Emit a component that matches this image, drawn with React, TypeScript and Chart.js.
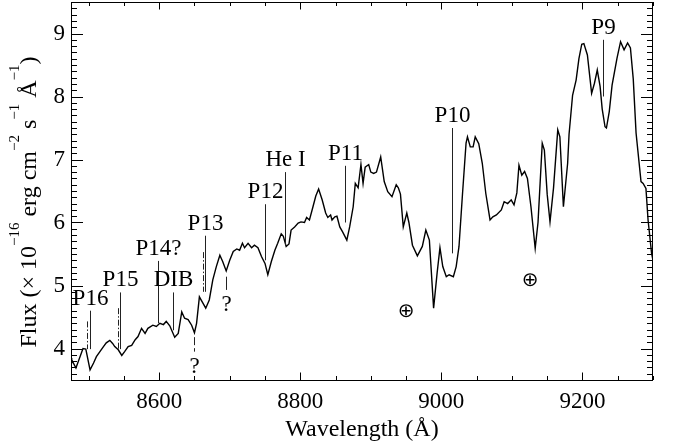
import React, { useEffect, useRef } from 'react';
import { Chart, registerables } from 'chart.js';

Chart.register(...registerables);

// ---- Spectrum data ----
const wavelength = [
  8475, 8476, 8482, 8492, 8496, 8502, 8507, 8511, 8521, 8525, 8530, 8534, 8537, 8542, 8547, 8551, 8556, 8561,
  8566, 8570, 8575, 8580, 8584, 8591, 8596, 8601, 8606, 8610, 8615, 8622, 8627, 8632, 8636, 8641, 8646, 8650,
  8653, 8657, 8661, 8666, 8671, 8676, 8681, 8686, 8690, 8695, 8700, 8705, 8710, 8714, 8718, 8721, 8726, 8731,
  8735, 8740, 8745, 8750, 8754, 8759, 8764, 8768, 8773, 8776, 8780, 8784, 8787, 8792, 8797, 8801, 8806, 8809,
  8813, 8818, 8822, 8826, 8831, 8836, 8839, 8843, 8845, 8849, 8852, 8856, 8860, 8866, 8870, 8875, 8878, 8882,
  8886, 8889, 8892, 8897, 8900, 8904, 8908, 8914, 8919, 8924, 8930, 8936, 8939, 8942, 8946, 8951, 8954, 8959,
  8966, 8973, 8978, 8983, 8989, 8994, 8998, 9002, 9007, 9011, 9017, 9021, 9025, 9030, 9035, 9037, 9041, 9045,
  9048, 9053, 9058, 9063, 9069, 9073, 9078, 9085, 9089, 9094, 9099, 9103, 9107, 9110, 9114, 9118, 9122, 9127,
  9133, 9137, 9143, 9146, 9150, 9154, 9159, 9165, 9168, 9173, 9179, 9181, 9186, 9191, 9195, 9199, 9202, 9207,
  9213, 9217, 9221, 9225, 9228, 9232, 9234, 9238, 9242, 9249, 9254, 9259, 9264, 9268, 9272, 9276, 9283, 9286,
  9290, 9293, 9298, 9300,
];
const flux = [
  3.85, 3.82, 3.69, 4.0, 3.99, 3.66, 3.77, 3.87, 4.03, 4.09, 4.13, 4.08, 4.03, 3.98, 3.89, 3.95, 4.03, 4.05,
  4.14, 4.19, 4.32, 4.24, 4.32, 4.37, 4.35, 4.4, 4.38, 4.43, 4.36, 4.18, 4.24, 4.58, 4.48, 4.46, 4.37, 4.25,
  4.4, 4.82, 4.74, 4.64, 4.77, 5.09, 5.3, 5.48, 5.38, 5.23, 5.4, 5.54, 5.58, 5.56, 5.67, 5.6, 5.67, 5.6,
  5.64, 5.6, 5.46, 5.35, 5.17, 5.38, 5.56, 5.67, 5.82, 5.78, 5.62, 5.66, 5.88, 5.93, 5.99, 6.01, 6.0, 6.08,
  6.04, 6.25, 6.42, 6.53, 6.36, 6.15, 6.08, 6.12, 6.04, 6.09, 6.1, 5.93, 5.85, 5.72, 5.93, 6.25, 6.62, 6.55,
  6.92, 6.62, 6.88, 6.92, 6.8, 6.78, 6.8, 7.04, 6.65, 6.49, 6.41, 6.6, 6.55, 6.45, 5.93, 6.15, 6.0, 5.64,
  5.47, 5.62, 5.88, 5.72, 4.64, 5.2, 5.6, 5.3, 5.14, 5.17, 5.14, 5.3, 5.62, 6.46, 7.26, 7.36, 7.2, 7.2,
  7.36, 7.25, 6.94, 6.46, 6.04, 6.09, 6.12, 6.2, 6.33, 6.3, 6.36, 6.28, 6.47, 6.91, 6.75, 6.81, 6.7, 6.25,
  5.59, 6.0, 7.26, 7.15, 6.45, 6.01, 6.55, 7.47, 7.36, 6.25, 6.94, 7.4, 8.02, 8.26, 8.6, 8.83, 8.84, 8.66,
  8.05, 8.21, 8.42, 8.16, 7.8, 7.52, 7.5, 7.76, 8.18, 8.61, 8.87, 8.74, 8.85, 8.77, 8.28, 7.42, 6.65, 6.62,
  6.54, 6.04, 5.51, 5.4,
];

// ---- Axes ----
const xMin = 8475;
const xMax = 9300;
const yMin = 3.5;
const yMax = 9.5;
const xTicks = [8600, 8800, 9000, 9200];
const yTicks = [4, 5, 6, 7, 8, 9];
const xMinorStep = 50;
const yMinorStep = 0.1;

// ---- Line identifications ----
const lineLabels = ['P16', 'P15', 'P14?', 'DIB', 'P13', 'P12', 'He I', 'P11', 'P10', 'P9'];
const lineWl = [8502, 8545, 8598, 8620, 8665, 8750, 8778, 8863, 9015, 9229];
const lineTop = [4.6, 4.89, 5.39, 4.89, 5.79, 6.29, 6.8, 6.9, 7.5, 8.9];
const lineBottom = [3.99, 3.99, 4.4, 4.29, 4.9, 5.4, 5.64, 6.0, 5.51, 8.0];

// Ca II triplet (dash-dot markers)
const caWl = [8498, 8542, 8662];
const caTop = [4.43, 4.64, 5.53];
const caBottom = [3.99, 3.99, 4.9];

// Unidentified features
const qWl = [8650, 8695];
const qTop = [4.18, 5.14];
const qBottom = [3.95, 4.93];
const qDashed = [true, false];

// Telluric bands
const tellWl = [8950, 9126];
const tellFlux = [4.61, 5.1];

const SERIF = "'Liberation Serif', 'Times New Roman', serif";

const overlayPlugin = {
  id: 'overlay',
  afterDatasetsDraw(chart: any) {
    const { ctx, chartArea: a, scales } = chart;
    const x = scales.x;
    const y = scales.y;
    ctx.save();

    // frame
    ctx.strokeStyle = '#000';
    ctx.lineWidth = 1;
    ctx.strokeRect(Math.round(a.left) + 0.5, Math.round(a.top) + 0.5, Math.round(a.right - a.left) - 1, Math.round(a.bottom - a.top));

    const seg = (x1: number, y1: number, x2: number, y2: number) => {
      ctx.beginPath();
      ctx.moveTo(x1, y1);
      ctx.lineTo(x2, y2);
      ctx.stroke();
    };

    // x tick marks (inward, top and bottom)
    for (let i = Math.ceil(xMin / xMinorStep); i * xMinorStep <= xMax; i++) {
      const v = i * xMinorStep;
      const px = Math.round(x.getPixelForValue(v)) + 0.5;
      const len = xTicks.includes(v) ? 7.5 : 4;
      seg(px, a.bottom, px, a.bottom - len);
      seg(px, a.top, px, a.top + len);
    }
    // y tick marks (inward, left and right)
    for (let i = Math.ceil(yMin / yMinorStep + 1e-6); i * yMinorStep < yMax - 1e-6; i++) {
      const v = Math.round(i * yMinorStep * 10) / 10;
      const py = Math.round(y.getPixelForValue(v)) + 0.5;
      const len = yTicks.includes(v) ? 12 : 6;
      seg(a.left, py, a.left + len, py);
      seg(a.right, py, a.right - len, py);
    }

    // identification markers
    ctx.strokeStyle = '#222';
    ctx.lineWidth = 1;
    ctx.fillStyle = '#000';
    ctx.font = `23px ${SERIF}`;
    ctx.textAlign = 'center';
    ctx.textBaseline = 'alphabetic';
    lineLabels.forEach((lab, i) => {
      const px = Math.round(x.getPixelForValue(lineWl[i])) + 0.5;
      const pt = y.getPixelForValue(lineTop[i]);
      const pb = y.getPixelForValue(lineBottom[i]);
      ctx.setLineDash([]);
      seg(px, pt, px, pb);
      ctx.fillText(lab, px, pt - 6);
    });
    caWl.forEach((w, i) => {
      const px = Math.round(x.getPixelForValue(w)) + 0.5;
      ctx.setLineDash([6, 2, 1.5, 2]);
      seg(px, y.getPixelForValue(caTop[i]), px, y.getPixelForValue(caBottom[i]));
    });
    qWl.forEach((w, i) => {
      const px = Math.round(x.getPixelForValue(w)) + 0.5;
      ctx.setLineDash(qDashed[i] ? [8, 3] : []);
      const pb = y.getPixelForValue(qBottom[i]);
      seg(px, y.getPixelForValue(qTop[i]), px, pb);
      ctx.setLineDash([]);
      ctx.fillText('?', px, pb + 21);
    });
    ctx.setLineDash([]);

    // telluric symbols
    ctx.font = "20px 'DejaVu Sans', sans-serif";
    tellWl.forEach((w, i) => {
      ctx.fillText('\u2295', x.getPixelForValue(w), y.getPixelForValue(tellFlux[i]) + 7);
    });

    // y axis title with superscripts
    const parts: [string, boolean][] = [
      ['Flux (\u00d7 10', false],
      ['\u221216', true],
      [' erg cm', false],
      ['\u22122', true],
      [' s', false],
      ['\u22121', true],
      [' \u00c5', false],
      ['\u22121', true],
      [')', false],
    ];
    const mainFont = `24px ${SERIF}`;
    const supFont = `15px ${SERIF}`;
    let total = 0;
    const widths = parts.map(([t, sup]) => {
      ctx.font = sup ? supFont : mainFont;
      const w = ctx.measureText(t).width;
      total += w;
      return w;
    });
    ctx.translate(36, 202);
    ctx.rotate(-Math.PI / 2);
    ctx.textAlign = 'left';
    let cx = -total / 2;
    parts.forEach(([t, sup], i) => {
      ctx.font = sup ? supFont : mainFont;
      ctx.fillText(t, cx, sup ? -17 : 0);
      cx += widths[i];
    });
    ctx.restore();
  },
};

export default function App() {
  const ref = useRef<HTMLCanvasElement>(null);
  useEffect(() => {
    let chart: any = null;
    let cancelled = false;
    const build = () => {
      if (cancelled || !ref.current) return;
      chart = new Chart(ref.current, {
        type: 'line',
        data: {
          datasets: [
            {
              data: wavelength.map((w, i) => ({ x: w, y: flux[i] })),
              borderColor: '#000',
              borderWidth: 1.4,
              pointRadius: 0,
              tension: 0,
              fill: false,
            },
          ],
        },
        options: {
          animation: false,
          responsive: false,
          layout: { padding: { top: 2, right: 21, left: 0, bottom: 0 } },
          plugins: { legend: { display: false }, tooltip: { enabled: false } },
          scales: {
            x: {
              type: 'linear',
              min: xMin,
              max: xMax,
              grid: { display: false, drawTicks: false },
              border: { display: false },
              afterBuildTicks: (s: any) => {
                s.ticks = xTicks.map((v) => ({ value: v }));
              },
              afterFit: (s: any) => {
                s.height = 64;
                s.paddingLeft = 0;
                s.paddingRight = 0;
              },
              ticks: {
                font: { family: SERIF, size: 23 },
                color: '#000',
                padding: 8,
                maxRotation: 0,
                autoSkip: false,
                callback: (v: any) => String(v),
              },
              title: {
                display: true,
                text: 'Wavelength (\u00c5)',
                font: { family: SERIF, size: 24 },
                color: '#000',
                padding: { top: 0, bottom: 0 },
              },
            },
            y: {
              type: 'linear',
              min: yMin,
              max: yMax,
              grid: { display: false, drawTicks: false },
              border: { display: false },
              afterBuildTicks: (s: any) => {
                s.ticks = yTicks.map((v) => ({ value: v }));
              },
              afterFit: (s: any) => {
                s.width = 71;
                s.paddingTop = 0;
                s.paddingBottom = 0;
              },
              ticks: {
                font: { family: SERIF, size: 23 },
                color: '#000',
                padding: 6,
                autoSkip: false,
                callback: (v: any) => String(v),
              },
            },
          },
        },
        plugins: [overlayPlugin],
      } as any);
    };
    const fonts: any = (document as any).fonts;
    if (fonts && fonts.load) {
      Promise.all([
        fonts.load("23px 'Liberation Serif'"),
        fonts.load("15px 'Liberation Serif'"),
        fonts.load("20px 'DejaVu Sans'"),
      ])
        .catch(() => null)
        .then(build);
    } else {
      build();
    }
    return () => {
      cancelled = true;
      if (chart) chart.destroy();
    };
  }, []);
  return (
    <div style={{ position: 'fixed', left: 0, top: 0, width: 674, height: 444, background: '#fff' }}>
      <canvas ref={ref} width={674} height={444} style={{ display: 'block', width: 674, height: 444 }} />
    </div>
  );
}
